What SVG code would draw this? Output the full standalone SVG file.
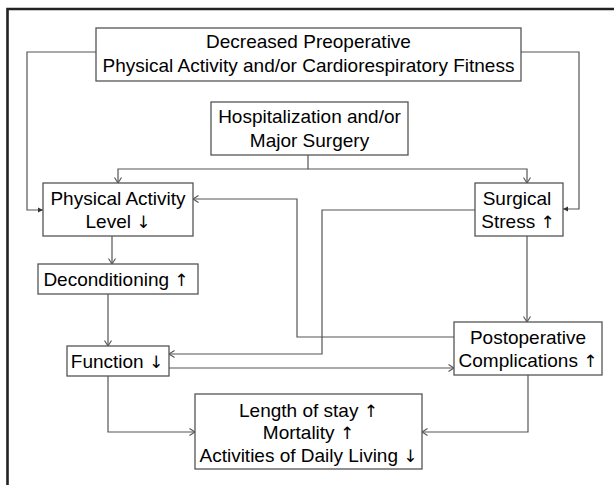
<svg xmlns="http://www.w3.org/2000/svg" width="614" height="485" viewBox="0 0 614 485">
<defs>
<style>
.box{fill:#fff;stroke:#555;stroke-width:1.3}
.t{font-family:"Liberation Sans",Arial,sans-serif;font-size:19px;fill:#000;text-anchor:middle}
.a{font-family:"DejaVu Sans",sans-serif;font-size:17px}
.c{fill:none;stroke:#555;stroke-width:1.2}
.o{marker-end:url(#open)}
.f{marker-end:url(#fill)}
</style>
<marker id="open" markerUnits="userSpaceOnUse" markerWidth="10" markerHeight="10" refX="6" refY="4" orient="auto">
<path d="M0.5,0.5 L6,4 L0.5,7.5" fill="none" stroke="#555" stroke-width="1.1"/>
</marker>
<marker id="fill" markerUnits="userSpaceOnUse" markerWidth="8" markerHeight="8" refX="5" refY="3" orient="auto">
<path d="M0,0.5 L5,3 L0,5.5 Z" fill="#333"/>
</marker>
</defs>
<rect width="614" height="485" fill="#fff"/>
<path d="M7.5,485 V9 H614" fill="none" stroke="#222" stroke-width="2.6"/>
<g id="connectors">
<path class="c f" d="M96,52 H27 V210 H43"/>
<path class="c f" d="M521,52 H579 V209 H563"/>
<path class="c o" d="M308,155 V169 H118 V183"/>
<path class="c o" d="M308,169 H527 V183"/>
<path class="c o" d="M112,236 V264"/>
<path class="c o" d="M108,294 V346"/>
<path class="c o" d="M527,236 V322"/>
<path class="c o" d="M454,337 H297 V199 H193"/>
<path class="c o" d="M475,210 H322 V354 H169"/>
<path class="c o" d="M169,368 H454"/>
<path class="c o" d="M108,376 V432 H195"/>
<path class="c o" d="M528,375 V432 H422"/>
</g>
<g id="n-preop">
<rect class="box" x="96" y="28" width="425" height="53"/>
<text class="t" x="308.5" y="48">Decreased Preoperative</text>
<text class="t" x="308.5" y="72">Physical Activity and/or Cardiorespiratory Fitness</text>
</g>
<g id="n-hosp">
<rect class="box" x="211" y="102" width="197" height="53"/>
<text class="t" x="309.5" y="123">Hospitalization and/or</text>
<text class="t" x="309.5" y="147">Major Surgery</text>
</g>
<g id="n-pal">
<rect class="box" x="43" y="183" width="150" height="53"/>
<text class="t" x="118" y="205">Physical Activity</text>
<text class="t" x="118" y="228">Level <tspan class="a">↓</tspan></text>
</g>
<g id="n-stress">
<rect class="box" x="475" y="183" width="88" height="53"/>
<text class="t" x="517" y="205">Surgical</text>
<text class="t" x="518" y="228">Stress <tspan class="a">↑</tspan></text>
</g>
<g id="n-decond">
<rect class="box" x="38" y="264" width="160" height="30"/>
<text class="t" x="116" y="286">Deconditioning <tspan class="a">↑</tspan></text>
</g>
<g id="n-function">
<rect class="box" x="67" y="346" width="102" height="30"/>
<text class="t" x="117" y="368">Function <tspan class="a">↓</tspan></text>
</g>
<g id="n-postop">
<rect class="box" x="454" y="322" width="148" height="53"/>
<text class="t" x="528" y="344">Postoperative</text>
<text class="t" x="528" y="367">Complications <tspan class="a">↑</tspan></text>
</g>
<g id="n-outcome">
<rect class="box" x="195" y="394" width="227" height="75"/>
<text class="t" x="308.5" y="417">Length of stay <tspan class="a">↑</tspan></text>
<text class="t" x="308.5" y="439">Mortality <tspan class="a">↑</tspan></text>
<text class="t" x="308.5" y="462">Activities of Daily Living <tspan class="a">↓</tspan></text>
</g>
</svg>
